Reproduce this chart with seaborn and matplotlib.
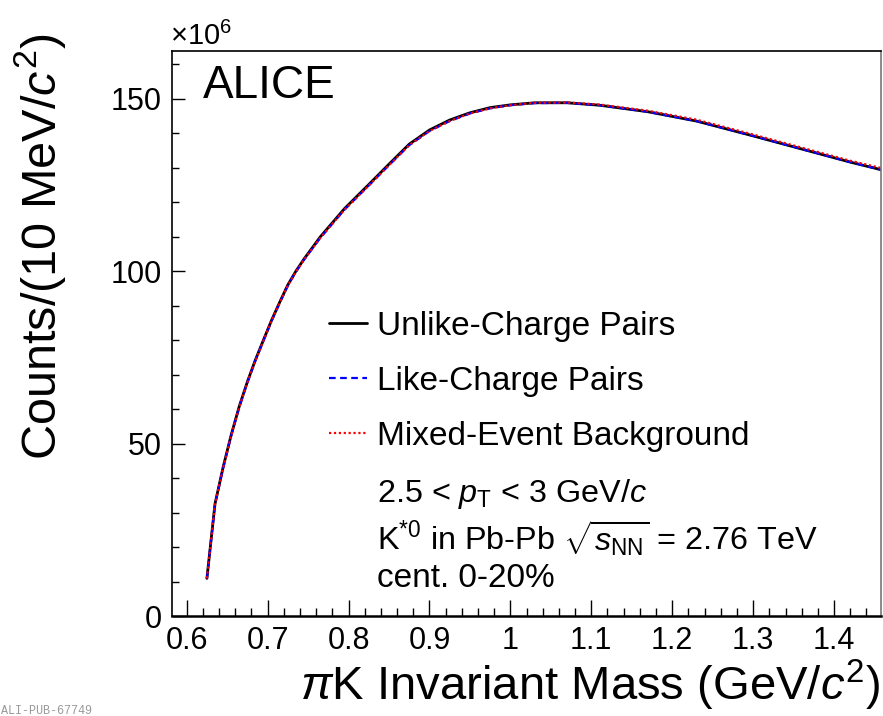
import matplotlib
matplotlib.use("Agg")
import matplotlib.pyplot as plt
import seaborn as sns
import pandas as pd
from matplotlib.ticker import MultipleLocator, FormatStrFormatter

# ---- data (counts in units of 10^6 per 10 MeV/c^2) ----
mass = [0.625, 0.635, 0.645, 0.655, 0.665, 0.675, 0.685, 0.695, 0.705, 0.715,
        0.725, 0.735, 0.745, 0.765, 0.795, 0.825, 0.850, 0.875, 0.900, 0.925,
        0.950, 0.975, 1.000, 1.030, 1.070, 1.110, 1.170, 1.230, 1.300, 1.360,
        1.420, 1.458]
unlike = [10.9, 32.5, 43.1, 52.5, 60.8, 67.9, 74.3, 80.1, 85.8, 91.0,
          96.0, 100.0, 103.5, 109.9, 118.1, 125.1, 131.0, 136.8, 140.9, 143.8,
          145.9, 147.4, 148.2, 148.8, 148.8, 148.1, 146.2, 143.5, 139.2, 135.4,
          131.6, 129.4]
like = [10.9, 32.4, 42.9, 52.3, 60.6, 67.7, 74.1, 79.9, 85.6, 90.8,
        95.8, 99.8, 103.3, 109.6, 117.8, 124.8, 130.7, 136.5, 140.6, 143.5,
        145.7, 147.2, 148.1, 148.7, 148.8, 148.1, 146.2, 143.5, 139.2, 135.4,
        131.6, 129.4]
mixed = [10.9, 32.4, 42.9, 52.3, 60.6, 67.7, 74.1, 79.9, 85.6, 90.8,
         95.8, 99.8, 103.3, 109.6, 117.8, 124.8, 130.7, 136.5, 140.6, 143.5,
         145.7, 147.2, 148.1, 148.8, 148.9, 148.3, 146.5, 143.9, 139.6, 135.8,
         132.0, 129.9]
series_names = ["Unlike-Charge Pairs", "Like-Charge Pairs", "Mixed-Event Background"]
xticks = [0.6, 0.7, 0.8, 0.9, 1.0, 1.1, 1.2, 1.3, 1.4]
yticks = [0, 50, 100, 150]

df = pd.DataFrame({
    "mass": mass * 3,
    "counts": unlike + like + mixed,
    "series": [series_names[0]] * len(mass) + [series_names[1]] * len(mass)
              + [series_names[2]] * len(mass),
})

sns.set_style("ticks")
plt.rcParams["font.family"] = ["Liberation Sans", "DejaVu Sans"]
plt.rcParams["mathtext.fontset"] = "custom"
plt.rcParams["mathtext.rm"] = "Liberation Sans"
plt.rcParams["mathtext.it"] = "Liberation Sans:italic"
plt.rcParams["mathtext.bf"] = "Liberation Sans:bold"
for k in ["text.color", "axes.labelcolor", "xtick.color", "ytick.color", "axes.edgecolor"]:
    plt.rcParams[k] = "black"

W, H = 883, 716
fig = plt.figure(figsize=(W / 100, H / 100), dpi=100)
L, R, B, T = 171.7, 881.0, 616.0, 50.7
ax = fig.add_axes([L / W, 1 - B / H, (R - L) / W, (B - T) / H])

palette = {series_names[0]: "black", series_names[1]: "#0000ff", series_names[2]: "#ff0000"}
styles = {series_names[0]: None, series_names[1]: (3, 2), series_names[2]: (1, 1.2)}
widths = {series_names[0]: 2.0, series_names[1]: 1.6, series_names[2]: 1.6}
for name in series_names:
    sub = df[df["series"] == name]
    kw = dict(color=palette[name], lw=widths[name], label=name, ax=ax)
    if styles[name] is not None:
        kw["dashes"] = styles[name]
    sns.lineplot(data=sub, x="mass", y="counts", **kw)

ax.set_xlim(0.5815, 1.458)
ax.set_ylim(0, 163.9)
ax.set_xticks(xticks)
ax.set_yticks(yticks)
ax.xaxis.set_minor_locator(MultipleLocator(0.02))
ax.yaxis.set_minor_locator(MultipleLocator(10))
ax.xaxis.set_major_formatter(FormatStrFormatter("%g"))
ax.tick_params(axis="x", which="major", direction="in", length=11.5, width=1, labelsize=22, pad=7)
ax.tick_params(axis="x", which="minor", direction="in", length=5.5, width=1)
ax.tick_params(axis="y", which="major", direction="in", length=9.5, width=1, labelsize=22, pad=7)
ax.tick_params(axis="y", which="minor", direction="in", length=5, width=1)
for s in ax.spines.values():
    s.set_visible(True)
    s.set_linewidth(1.2)
ax.spines["bottom"].set_linewidth(1.8)
ax.spines["right"].set_color("#777777")
ax.set_xlabel("")
ax.set_ylabel("")

fig.text(880 / W, 1 - 700 / H, r"$\pi$K Invariant Mass (GeV/$c^{2}$)", fontsize=34,
         ha="right", va="baseline")
fig.text(40 / W, 1 - 33 / H, r"Counts/(10 MeV/$c^{2}$)", fontsize=35, rotation=90,
         ha="center", va="top")

fig.text(170 / W, 1 - 45 / H, r"$\times$10$^{6}$", fontsize=21, ha="left", va="baseline")
fig.text(203 / W, 1 - 98 / H, "ALICE", fontsize=33, ha="left", va="baseline")

leg = ax.legend(loc="upper left", bbox_to_anchor=(299 / W, 1 - 281 / H),
                bbox_transform=fig.transFigure, frameon=False, fontsize=24,
                handlelength=1.15, handletextpad=0.3, labelspacing=0.72)

tx = 377 / W
fig.text(tx, 1 - 502 / H, r"2.5 < $p_{\rm T}$ < 3 GeV/$c$", fontsize=23.3, ha="left", va="baseline")
fig.text(tx, 1 - 551 / H, r"K$^{*0}$ in Pb-Pb $\sqrt{s_{\rm NN}}$ = 2.76 TeV", fontsize=23.3,
         ha="left", va="baseline")
fig.text(tx, 1 - 587 / H, "cent. 0-20%", fontsize=24, ha="left", va="baseline")

fig.text(1 / W, 1 - 714 / H, "ALI-PUB-67749", fontsize=8.5, color="#999999",
         family=["Liberation Mono", "DejaVu Sans Mono"], ha="left", va="baseline")

fig.savefig("out.png", dpi=100)
